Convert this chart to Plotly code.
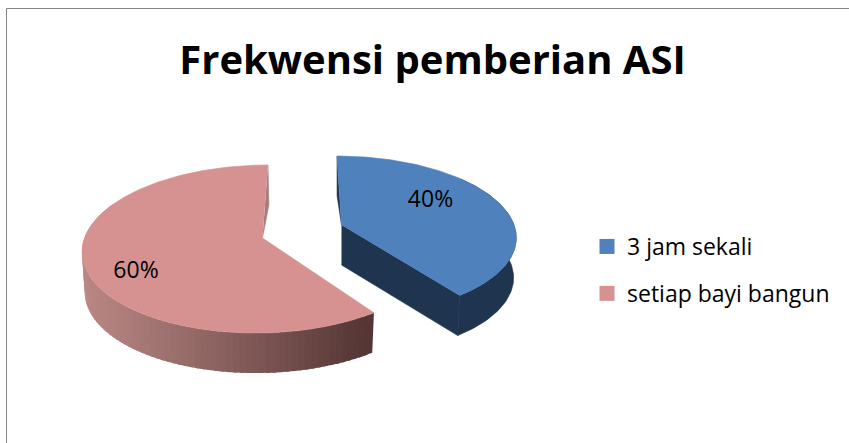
import numpy as np
import plotly.graph_objects as go

categories = ["3 jam sekali", "setiap bayi bangun"]
values = [40, 60]
title_text = "Frekwensi pemberian ASI"

TOP = ["#4f81bd", "#d69290"]
SIDE_BLUE = "#1f344f"
WALL_PINK = "#a97c7a"
GRAD_L = np.array([186, 136, 133])
GRAD_R = np.array([84, 54, 52])

K = 0.131
DEPTH = 40
SHRINK_X = 0.985
SHRINK_Y = 1.0
ROT = 0
W, H = 849, 443
# apex x, apex y, half-width, half-height, skew for each exploded slice
SLICE = [
    dict(cx=341.5, cy=225, a=172.5, b=78, s=0.065),
    dict(cx=262.5, cy=238, a=178, b=82.6, s=-0.075),
]


def project(g, theta, bottom=False):
    t = np.radians(np.asarray(theta, dtype=float))
    u, v = np.sin(t), -np.cos(t)
    w = 1 - K * v
    X = g["a"] * u / w
    Y = g["b"] * v / w
    X = X + g["s"] * Y
    if bottom:
        return g["cx"] + SHRINK_X * X, g["cy"] + SHRINK_Y * Y + DEPTH
    return g["cx"] + X, g["cy"] + Y


def poly(xs, ys, color, width=0.6):
    return go.Scatter(x=list(xs), y=list(ys), mode="lines", fill="toself", fillcolor=color,
                      line=dict(color=color, width=width), showlegend=False, hoverinfo="skip")


fig = go.Figure()
bounds = np.cumsum([0] + values) * 3.6 + ROT
start_b, end_b = bounds[0], bounds[1]
start_p, end_p = bounds[1], bounds[2]
gb, gp = SLICE

# ---- pink slice: gradient side, inner wall, top
edges = np.linspace(start_p, start_p + 150, 81)
step = edges[1] - edges[0]
x_all = project(gp, edges)[0]
x_min, x_max = x_all.min(), x_all.max()
for e0 in edges[:-1][::-1]:
    # painted from the far end so that each strip overlaps the previous one
    e1 = e0 + step * 1.6
    x0, y0 = project(gp, [e0, e1])
    x1, y1 = project(gp, [e1, e0], bottom=True)
    f = ((x0[0] - x_min) / (x_max - x_min)) ** 1.1
    c = GRAD_L + (GRAD_R - GRAD_L) * f
    fig.add_trace(poly(np.r_[x0, x1], np.r_[y0, y1], "rgb(%d,%d,%d)" % tuple(c), width=0))
ox, oy = project(gp, [end_p])
bx, by = project(gp, [end_p], bottom=True)
fig.add_trace(poly([ox[0], bx[0] + 1, gp["cx"]], [oy[0], by[0], gp["cy"]], WALL_PINK))
th = np.linspace(start_p, end_p, 200)
x, y = project(gp, th)
fig.add_trace(poly(np.r_[gp["cx"], x], np.r_[gp["cy"], y], TOP[1]))

# ---- blue slice: walls, side, top
x0, y0 = project(gb, [end_b])
x1, y1 = project(gb, [end_b], bottom=True)
fig.add_trace(poly([gb["cx"], x0[0], x1[0], gb["cx"]], [gb["cy"], y0[0], y1[0], gb["cy"] + DEPTH], SIDE_BLUE))
th = np.linspace(start_b + 50, end_b, 80)
x0, y0 = project(gb, th)
x1, y1 = project(gb, th[::-1], bottom=True)
fig.add_trace(poly(np.r_[x0, x1], np.r_[y0, y1], SIDE_BLUE))
x0, y0 = project(gb, [start_b])
x1, y1 = project(gb, [start_b], bottom=True)
fig.add_trace(poly([x0[0], x1[0], gb["cx"]], [y0[0], y1[0], gb["cy"]], SIDE_BLUE))
th = np.linspace(start_b, end_b, 150)
x, y = project(gb, th)
fig.add_trace(poly(np.r_[gb["cx"], x], np.r_[gb["cy"], y], TOP[0]))

# ---- data labels
fig.add_trace(go.Scatter(x=[430.5, 136], y=[201.5, 272.5], mode="text",
                         text=[f"{v}%" for v in values], showlegend=False, hoverinfo="skip",
                         textfont=dict(family="Open Sans", size=23, color="#000000")))

# ---- legend
for name, col in zip(categories, TOP):
    fig.add_trace(go.Scatter(x=[None], y=[None], mode="markers", name=name, legendgroup=name,
                             marker=dict(symbol="square", size=15, color=col)))

fig.update_layout(
    width=W, height=H, autosize=False,
    margin=dict(l=0, r=0, t=0, b=0),
    paper_bgcolor="white", plot_bgcolor="white",
    xaxis=dict(range=[0, W], visible=False, fixedrange=True),
    yaxis=dict(range=[H, 0], visible=False, fixedrange=True),
    title=dict(text=f"<b>{title_text}</b>", x=432.5 / W, xanchor="center",
               y=1 - 60 / H, yanchor="middle",
               font=dict(family="Open Sans", size=40, color="#000000")),
    legend=dict(x=587 / W, y=1 - 225 / H, xanchor="left", yanchor="top", itemwidth=30,
                tracegroupgap=14, bgcolor="rgba(0,0,0,0)",
                font=dict(family="Open Sans", size=23, color="#000000")),
    shapes=[
        dict(type="line", x0=6.5, x1=W, y0=8.5, y1=8.5, line=dict(color="#868686", width=1)),
        dict(type="line", x0=6.5, x1=6.5, y0=8.5, y1=H, line=dict(color="#868686", width=1)),
    ],
)
fig.write_html("out.html", config={"displayModeBar": False},
               post_script="document.body.style.margin='0';document.documentElement.style.overflow='hidden';")
